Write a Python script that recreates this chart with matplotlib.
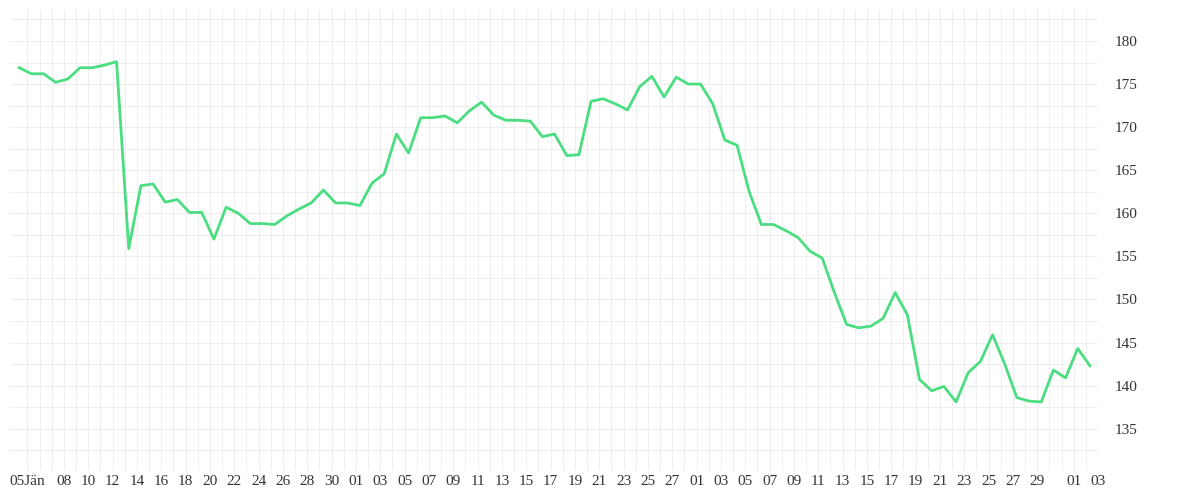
import matplotlib
matplotlib.use('Agg')
import matplotlib.pyplot as plt
import matplotlib.dates as mdates
from matplotlib.ticker import MultipleLocator
import pandas as pd

# daily closing values, starting 05 Jan
values = [
    176.9, 176.2, 176.2, 175.2, 175.6, 176.9, 176.9, 177.2, 177.6,
    155.9, 163.2, 163.4, 161.3, 161.6, 160.1, 160.1, 157.0, 160.7, 160.0,
    158.8, 158.8, 158.7, 159.7, 160.5, 161.2, 162.7, 161.2, 161.2, 160.9,
    163.5, 164.6, 169.2, 167.0, 171.1, 171.1, 171.3, 170.5, 171.9, 172.9,
    171.4, 170.8, 170.8, 170.7, 168.9, 169.2, 166.7, 166.8, 173.0, 173.3,
    172.7, 172.0, 174.7, 175.9, 173.5, 175.8, 175.0, 175.0, 172.7, 168.5,
    167.9, 162.5, 158.7, 158.7, 158.0, 157.2, 155.6, 154.8, 150.8, 147.1,
    146.7, 146.9, 147.8, 150.8, 148.2, 140.7, 139.4, 139.9, 138.1, 141.5,
    142.8, 145.9, 142.5, 138.6, 138.2, 138.1, 141.8, 140.9, 144.3, 142.3,
]
dates = pd.date_range('2026-01-05', periods=len(values), freq='D')

tick_dates = ['2026-01-05'] + [f'2026-01-{d:02d}' for d in range(8, 31, 2)] \
    + [f'2026-02-{d:02d}' for d in range(1, 28, 2)] \
    + [f'2026-03-{d:02d}' for d in range(1, 30, 2)] \
    + ['2026-04-01', '2026-04-03']
tick_labels = ['05Jän'] + [pd.Timestamp(t).strftime('%d') for t in tick_dates[1:]]

plt.rcParams['font.family'] = ['Liberation Serif', 'DejaVu Serif']

fig = plt.figure(figsize=(12, 5), dpi=100)
ax = fig.add_axes([0.008, 0.06, 0.907, 0.92])

ax.plot(dates, values, color='#4ade80', linewidth=2)

ax.set_xlim(pd.Timestamp('2026-01-04 05:00'), pd.Timestamp('2026-04-03 12:00'))
shift = pd.Timedelta(hours=16)
ax.set_xticks(pd.to_datetime(tick_dates) + shift)
ax.set_xticklabels(tick_labels)
ax.set_xticks(dates + shift, minor=True)
ax.yaxis.set_major_locator(MultipleLocator(5))
ax.yaxis.set_minor_locator(MultipleLocator(2.5))
ax.set_ylim(130.2, 183.6)
ax.yaxis.tick_right()
ax.grid(True, which='both', color='#eeeeee', linewidth=0.8)
ax.set_axisbelow(True)
ax.tick_params(axis='both', which='both', length=0, labelsize=11, colors='#333333')
ax.tick_params(axis='y', pad=12)
for s in ax.spines.values():
    s.set_visible(False)

plt.savefig('out.png', dpi=100, facecolor='white')
plt.close()
